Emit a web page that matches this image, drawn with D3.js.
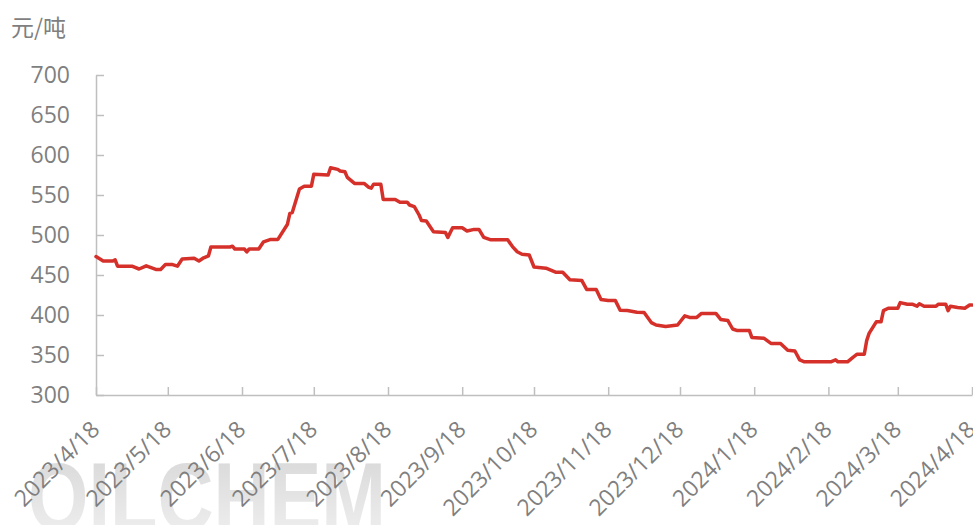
<!DOCTYPE html>
<html>
<head>
<meta charset="utf-8">
<script src="https://cdn.jsdelivr.net/npm/d3@7"></script>
<style>
  body { margin: 0; background: #fff; }
  svg { display: block; }
</style>
</head>
<body>
<div id="chart"></div>
<script>
var w = 973;
var h = 525;

// x axis tick labels (monthly, on the 18th)
var tickLabels = ["2023/4/18", "2023/5/18", "2023/6/18", "2023/7/18", "2023/8/18", "2023/9/18",
  "2023/10/18", "2023/11/18", "2023/12/18", "2024/1/18", "2024/2/18", "2024/3/18", "2024/4/18"];

var yTicks = [300, 350, 400, 450, 500, 550, 600, 650, 700];

// price series (元/吨)
var dates = [
  "2023-04-18", "2023-04-21", "2023-04-25", "2023-04-26", "2023-04-27", "2023-05-03", "2023-05-06",
  "2023-05-09", "2023-05-13", "2023-05-15", "2023-05-17", "2023-05-20", "2023-05-22", "2023-05-24",
  "2023-05-29", "2023-05-31", "2023-06-02", "2023-06-04", "2023-06-05", "2023-06-13", "2023-06-14",
  "2023-06-15", "2023-06-19", "2023-06-20", "2023-06-21", "2023-06-25", "2023-06-27", "2023-06-30",
  "2023-07-03", "2023-07-07", "2023-07-08", "2023-07-09", "2023-07-12", "2023-07-14", "2023-07-17",
  "2023-07-18", "2023-07-24", "2023-07-25", "2023-07-28", "2023-07-29", "2023-07-31", "2023-08-01",
  "2023-08-04", "2023-08-08", "2023-08-10", "2023-08-11", "2023-08-12", "2023-08-15", "2023-08-16",
  "2023-08-21", "2023-08-23", "2023-08-26", "2023-08-27", "2023-08-29", "2023-08-31", "2023-09-01",
  "2023-09-03", "2023-09-06", "2023-09-11", "2023-09-12", "2023-09-14", "2023-09-18", "2023-09-20",
  "2023-09-23", "2023-09-25", "2023-09-27", "2023-09-30", "2023-10-07", "2023-10-09", "2023-10-11",
  "2023-10-13", "2023-10-16", "2023-10-18", "2023-10-23", "2023-10-27", "2023-10-30", "2023-11-02",
  "2023-11-07", "2023-11-09", "2023-11-13", "2023-11-15", "2023-11-18", "2023-11-21", "2023-11-23",
  "2023-11-26", "2023-11-30", "2023-12-03", "2023-12-06", "2023-12-08", "2023-12-12", "2023-12-17",
  "2023-12-20", "2023-12-22", "2023-12-25", "2023-12-27", "2024-01-02", "2024-01-04", "2024-01-07",
  "2024-01-09", "2024-01-11", "2024-01-16", "2024-01-17", "2024-01-22", "2024-01-25", "2024-01-29",
  "2024-02-01", "2024-02-04", "2024-02-06", "2024-02-08", "2024-02-19", "2024-02-21", "2024-02-22",
  "2024-02-26", "2024-02-28", "2024-03-01", "2024-03-04", "2024-03-05", "2024-03-06", "2024-03-09",
  "2024-03-11", "2024-03-12", "2024-03-14", "2024-03-18", "2024-03-19", "2024-03-22", "2024-03-24",
  "2024-03-26", "2024-03-27", "2024-03-29", "2024-04-03", "2024-04-04", "2024-04-07", "2024-04-08",
  "2024-04-09", "2024-04-12", "2024-04-15", "2024-04-17", "2024-04-18"
];
var prices = [
  473, 467.5, 467.5, 469, 461, 461, 457.5,
  461.5, 457, 457, 463, 463, 461, 470,
  471, 467.5, 471.5, 474, 485, 485, 486,
  482.5, 482.5, 479, 482.5, 482.5, 491.5, 494.5,
  494.5, 513.5, 527, 528, 557.5, 561, 561,
  576, 575, 584, 582, 580, 579, 572,
  564.5, 564.5, 559.5, 558.5, 563.5, 563.5, 544.5,
  544.5, 541, 541, 537.5, 535.5, 525, 518,
  517.5, 504, 503, 497, 509, 509, 505,
  507, 507, 497, 494, 494, 485.5, 479,
  476, 475, 460, 458.5, 453.5, 453.5, 444,
  443, 432, 432, 419.5, 418, 418, 406,
  405.5, 403.5, 403, 390.5, 387.5, 385.5, 387.5,
  399, 397, 397, 402, 402, 394.5, 393,
  382.5, 380.5, 380.5, 372, 371, 364.5, 364.5,
  356, 355, 344, 341.5, 341.5, 344, 341.5,
  341.5, 346.5, 351, 351, 368, 377, 391.5,
  391.5, 405.5, 408.5, 408.5, 415.5, 413.5, 413.5,
  411, 414, 411, 411, 413.5, 413.5, 405.5,
  411, 409.5, 408.5, 412.5, 412.5
];

var parseDay = d3.timeParse("%Y-%m-%d");
var parseTick = d3.timeParse("%Y/%m/%d");

var series = dates.map(function(d, i) {
  return { date: parseDay(d), value: prices[i] };
});
var tickDates = tickLabels.map(function(t) { return parseTick(t); });

var plotLeft = 96, plotRight = 972, plotTop = 75, plotBottom = 395;

var x = d3.scaleTime()
  .domain([tickDates[0], tickDates[tickDates.length - 1]])
  .range([plotLeft, plotRight]);

var y = d3.scaleLinear()
  .domain([300, 700])
  .range([plotBottom, plotTop]);

var svg = d3.select("#chart")
  .append("svg")
  .attr("width", w)
  .attr("height", h);

// faint watermark behind the date labels
var grad = svg.append("defs").append("linearGradient")
  .attr("id", "wm")
  .attr("x1", 0).attr("y1", 0).attr("x2", 0).attr("y2", 1);
grad.append("stop").attr("offset", "0%").attr("stop-color", "#d6d6d6");
grad.append("stop").attr("offset", "100%").attr("stop-color", "#f2f2f2");

svg.append("text")
  .attr("x", 28)
  .attr("y", 530)
  .attr("textLength", 358)
  .attr("lengthAdjust", "spacingAndGlyphs")
  .style("font-family", "'Liberation Sans', Arial, sans-serif")
  .style("font-weight", "bold")
  .style("font-size", "96px")
  .attr("fill", "url(#wm)")
  .text("OILCHEM");

// unit label
svg.append("text")
  .attr("x", 11)
  .attr("y", 36)
  .style("font-family", "'Noto Sans CJK SC', sans-serif")
  .style("font-size", "23px")
  .attr("fill", "#7f7f7f")
  .text("元/吨");

var axisColor = "#bfbfbf";
var labelFont = "'Open Sans', 'Noto Sans', sans-serif";

// y axis, ticks pointing inward
var yAxis = svg.append("g")
  .attr("transform", "translate(" + plotLeft + ",0)")
  .call(d3.axisLeft(y).tickValues(yTicks).tickSize(-8).tickSizeOuter(0).tickPadding(26));

// x axis, ticks pointing up
var xAxis = svg.append("g")
  .attr("transform", "translate(0," + plotBottom + ")")
  .call(d3.axisBottom(x).tickValues(tickDates).tickSize(-8).tickSizeOuter(0)
    .tickFormat(function(d, i) { return tickLabels[i]; }));

[yAxis, xAxis].forEach(function(g) {
  g.select(".domain").attr("stroke", axisColor).attr("stroke-width", 1.5);
  g.selectAll(".tick line").attr("stroke", axisColor).attr("stroke-width", 1.5);
  g.selectAll(".tick text")
    .attr("fill", "#7f7f7f")
    .style("font-family", labelFont)
    .style("font-size", "23px");
});

xAxis.selectAll(".tick text")
  .attr("x", null)
  .attr("y", null)
  .attr("dy", null)
  .attr("transform", "translate(4.5,36) rotate(-45)")
  .style("text-anchor", "end");

// price line
var line = d3.line()
  .x(function(d) { return x(d.date); })
  .y(function(d) { return y(d.value); });

svg.append("path")
  .datum(series)
  .attr("d", line)
  .attr("fill", "none")
  .attr("stroke", "#d5302a")
  .attr("stroke-width", 3.5)
  .attr("stroke-linejoin", "round")
  .attr("stroke-linecap", "round");
</script>
</body>
</html>
